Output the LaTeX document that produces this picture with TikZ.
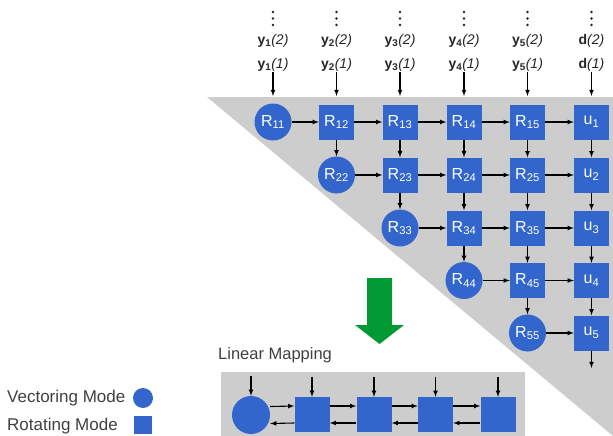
\documentclass[tikz,border=0pt]{standalone}
\usepackage{fontspec}
\setmainfont{Liberation Sans}
\usetikzlibrary{arrows}

\definecolor{cblue}{RGB}{50,102,204}
\definecolor{cgray}{RGB}{205,205,205}
\definecolor{cgreen}{RGB}{0,153,51}

\tikzset{
  vmode/.style={circle, fill=cblue, text=white, minimum size=37pt, inner sep=0pt,
    font=\fontsize{16}{16}\selectfont},
  rmode/.style={rectangle, fill=cblue, text=white, minimum size=35pt, inner sep=0pt,
    font=\fontsize{16}{16}\selectfont},
  inlabel/.style={font=\fontsize{14}{14}\selectfont, inner sep=0pt, text=black!85},
  link/.style={->, line width=1.1pt}
}

\begin{document}
\begin{tikzpicture}[x=1pt, y=-1pt, >=latex]
\useasboundingbox (0,0) rectangle (613,436);

% gray triangle of the array
  \fill[cgray] (207,97) -- (613,97) -- (613,436) -- cycle;

  % first row
  \node[vmode] (R11) at (273,122) {R\textsubscript{11}};
  \node[rmode] (R12) at (336.5,122) {R\textsubscript{12}};
  \node[rmode] (R13) at (400,122) {R\textsubscript{13}};
  \node[rmode] (R14) at (464,122) {R\textsubscript{14}};
  \node[rmode] (R15) at (527.5,122) {R\textsubscript{15}};
  \node[rmode] (u1) at (591.5,122) {u\textsubscript{1}};

  % second row
  \node[vmode] (R22) at (336.5,175) {R\textsubscript{22}};
  \node[rmode] (R23) at (400,175) {R\textsubscript{23}};
  \node[rmode] (R24) at (464,175) {R\textsubscript{24}};
  \node[rmode] (R25) at (527.5,175) {R\textsubscript{25}};
  \node[rmode] (u2) at (591.5,175) {u\textsubscript{2}};

  % third row
  \node[vmode] (R33) at (400,228) {R\textsubscript{33}};
  \node[rmode] (R34) at (464,228) {R\textsubscript{34}};
  \node[rmode] (R35) at (527.5,228) {R\textsubscript{35}};
  \node[rmode] (u3) at (591.5,228) {u\textsubscript{3}};

  % fourth and fifth row
  \node[vmode] (R44) at (464,280.5) {R\textsubscript{44}};
  \node[rmode] (R45) at (527.5,280.5) {R\textsubscript{45}};
  \node[rmode] (u4) at (591.5,280.5) {u\textsubscript{4}};
  \node[vmode] (R55) at (527.5,333) {R\textsubscript{55}};
  \node[rmode] (u5) at (591.5,333) {u\textsubscript{5}};

  \foreach \a/\b in {R11/R12,R12/R13,R13/R14,R14/R15,R15/u1,
      R22/R23,R23/R24,R24/R25,R25/u2,R33/R34,R34/R35,R35/u3,
      R44/R45,R45/u4,R55/u5}
    \draw[link] (\a) -- (\b);

  \foreach \a/\b in {R12/R22,R13/R23,R23/R33,R14/R24,R24/R34,R34/R44,
      R15/R25,R25/R35,R35/R45,R45/R55,u1/u2,u2/u3,u3/u4,u4/u5}
    \draw[link] (\a) -- (\b);

  \coordinate (out) at (591.5,368);
  \draw[link] (u5) -- (out);

  % inputs on top
  \foreach \k/\x/\s in {1/273/\textbf{y\textsubscript{1}},2/336.5/\textbf{y\textsubscript{2}},
      3/400/\textbf{y\textsubscript{3}},4/464/\textbf{y\textsubscript{4}},
      5/527.5/\textbf{y\textsubscript{5}},6/591.5/\textbf{d}}{
    \coordinate (vd\k) at (\x,18.5);
    \fill[black!85] ([yshift=6.5pt]vd\k) circle (1.3pt) (vd\k) circle (1.3pt)
      ([yshift=-6.5pt]vd\k) circle (1.3pt);
    \node[inlabel] (yb\k) at (\x,41) {\s\textit{(2)}};
    \node[inlabel] (ya\k) at (\x,65) {\s\textit{(1)}};
    \coordinate (top\k) at (\x,96);
    \draw[link] (ya\k) -- (top\k);
  }

  % green arrow
  \fill[cgreen] (367,278) -- (392,278) -- (392,325) -- (404,325) -- (379.5,344)
    -- (355,325) -- (367,325) -- cycle;

  % linear mapping
  \node[anchor=west, inner sep=0pt, font=\fontsize{16.5}{16.5}\selectfont, text=black!75]
    (lmtitle) at (218,355) {Linear Mapping};
  \fill[cgray] (221,372) rectangle (525,436);

  \node[vmode, minimum size=38pt] (m1) at (251,415) {};
  \node[rmode] (m2) at (312,414.5) {};
  \node[rmode] (m3) at (374,414.5) {};
  \node[rmode] (m4) at (435.5,414.5) {};
  \node[rmode] (m5) at (498,414.5) {};

  \foreach \m in {m1,m2,m3,m4,m5}
    \draw[link] ([yshift=20pt]\m.north) -- (\m.north);
  \foreach \a/\b in {m1/m2,m2/m3,m3/m4,m4/m5}{
    \draw[link] ([yshift=8.5pt]\a.east) -- ([yshift=8.5pt]\b.west);
    \draw[link] ([yshift=-8.5pt]\b.west) -- ([yshift=-8.5pt]\a.east);
  }

  % legend
  \node[anchor=west, inner sep=0pt, font=\fontsize{17}{17}\selectfont, text=black!75]
    (vtext) at (7,398) {Vectoring Mode};
  \node[circle, fill=cblue, minimum size=20pt, inner sep=0pt] (vkey) at (143,398) {};
  \node[anchor=west, inner sep=0pt, font=\fontsize{17}{17}\selectfont, text=black!75]
    (rtext) at (7,426) {Rotating Mode};
  \node[rectangle, fill=cblue, minimum size=18pt, inner sep=0pt] (rkey) at (143,424.5) {};
\end{tikzpicture}
\end{document}
